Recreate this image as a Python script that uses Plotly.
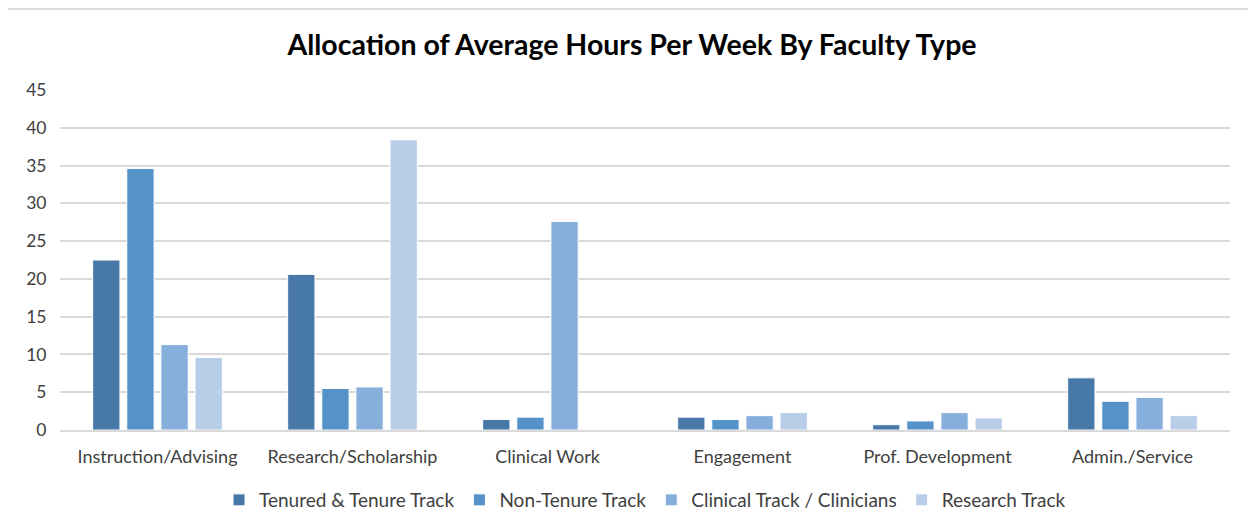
import plotly.graph_objects as go

categories = ["Instruction/Advising", "Research/Scholarship", "Clinical Work",
              "Engagement", "Prof. Development", "Admin./Service"]
series_names = ["Tenured & Tenure Track", "Non-Tenure Track",
                "Clinical Track / Clinicians", "Research Track"]
tenured = [22.5, 20.6, 1.4, 1.7, 0.7, 6.9]
non_tenure = [34.6, 5.5, 1.7, 1.4, 1.2, 3.8]
clinical = [11.3, 5.7, 27.6, 1.9, 2.3, 4.3]
research = [9.6, 38.4, 0, 2.3, 1.6, 1.9]
y_ticks = [0, 5, 10, 15, 20, 25, 30, 35, 40, 45]

colors = ["#4778A8", "#5592C8", "#86AFDC", "#B8CDE8"]
font_family = "Lato, 'Open Sans', sans-serif"

fig = go.Figure()
for name, vals, col in zip(series_names, [tenured, non_tenure, clinical, research], colors):
    fig.add_trace(go.Bar(
        x=categories, y=vals, name=name,
        marker=dict(color=col, line=dict(color="white", width=1)),
    ))

# page body has an 8px margin: work in figure coordinates = screen - 8
OFF = 8
W, H = 1256 - OFF, 527 - OFF
L, R, T, B = 60 - OFF, 26, 90 - OFF, 97
pw, ph = W - L - R, H - T - B

def px_x(sx):
    return (sx - OFF - L) / pw

def px_y(sy):
    return (H - B - (sy - OFF)) / ph

fig.update_layout(
    width=W, height=H,
    margin=dict(l=L, r=R, t=T, b=B, autoexpand=False),
    paper_bgcolor="white", plot_bgcolor="white",
    barmode="group", bargap=0.3, bargroupgap=0.2,
    font=dict(family=font_family, color="#404040"),
    title=dict(text="<b>Allocation of Average Hours Per Week By Faculty Type</b>",
               x=0.5, xanchor="center", y=1 - (45 - OFF) / H, yanchor="middle",
               font=dict(size=28.5, color="#000000", family=font_family)),
    yaxis=dict(range=[0, 45], tickvals=y_ticks, showgrid=True,
               gridcolor="#D9D9D9", gridwidth=1.5, zeroline=False,
               tickfont=dict(size=17.5, color="#404040"), ticks="outside",
               ticklen=9, tickcolor="rgba(0,0,0,0)",
               showline=False, fixedrange=True),
    xaxis=dict(showline=True, linecolor="#D9D9D9", linewidth=1.5,
               tickfont=dict(size=18, color="#404040"), ticks="outside",
               ticklen=10, tickcolor="rgba(0,0,0,0)"),
    legend=dict(orientation="h", x=0.5, xanchor="center",
                y=px_y(500), yanchor="middle",
                font=dict(size=19, color="#404040"),
                itemwidth=30, tracegroupgap=0),
    shapes=[dict(type="line", xref="paper", yref="paper",
                 x0=px_x(OFF), x1=px_x(1256), y0=px_y(OFF + 1), y1=px_y(OFF + 1),
                 line=dict(color="#D9D9D9", width=2), layer="below")],
)
fig.write_html("out.html")
